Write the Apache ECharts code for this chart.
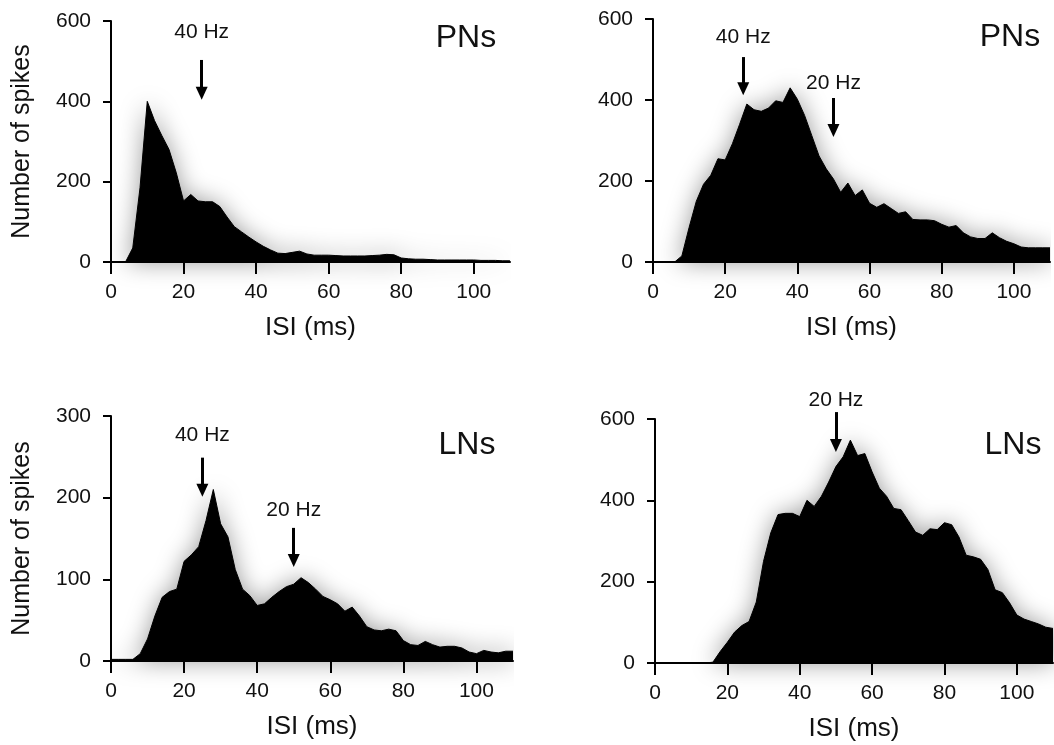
<!DOCTYPE html>
<html>
<head>
<meta charset="utf-8">
<script src="https://cdn.jsdelivr.net/npm/echarts@6/dist/echarts.min.js"></script>
<style>html,body{margin:0;padding:0;background:#fff;}#c{width:1054px;height:745px;}</style>
</head>
<body>
<div id="c"></div>
<script>
// ISI bins (ms)
const isi = [0,2,4,6,8,10,12,14,16,18,20,22,24,26,28,30,32,34,36,38,40,42,44,46,48,50,52,54,56,58,60,62,64,66,68,70,72,74,76,78,80,82,84,86,88,90,92,94,96,98,100,102,104,106,108,110];
// Panel A: PNs (top left)
const pnA = [0,0,0,35,185,400,352,315,280,222, 152,168,152,150,150,138,112,88,75,62, 50,39,30,22,21,24,27,20,17,17, 17,16,15,15,15,15,16,17,19,18, 10,8,7,7,6,5,5,5,5,5, 5,4,4,4,3,3];
// Panel B: PNs (top right)
const pnB = [0,0,0,0,15,85,150,192,214,255, 252,292,340,390,376,372,380,398,394,430, 402,362,312,262,230,205,172,195,164,178, 145,135,144,132,120,124,105,104,104,102, 93,86,90,72,62,58,58,72,60,51, 45,37,35,35,35,35];
// Panel C: LNs (bottom left)
const lnC = [2,2,2,2,9,27,55,78,85,88, 122,130,140,172,210,168,152,112,88,80, 68,70,78,85,91,94,102,96,88,79, 75,70,61,66,55,42,38,37,39,37, 25,20,19,24,20,17,18,18,16,11, 9,13,11,10,12,12];
// Panel D: LNs (bottom right)
const lnD = [0,0,0,0,0,0,0,0,2,28, 51,76,92,102,150,250,320,365,368,368, 360,400,385,410,445,483,507,548,510,515, 470,430,410,380,377,350,322,314,330,328, 345,340,310,265,261,255,230,180,173,148, 118,108,102,96,88,85];
// Tick labels
const xTicks = [0,20,40,60,80,100];
// Arrow annotations (data units): ISI position, arrow top, arrow end, label height
const arrA = [{at:25, from:503, to:420, textAt:573, text:'40 Hz'}];
const arrB = [{at:25, from:506, to:428, textAt:556, text:'40 Hz'}, {at:50, from:405, to:325, textAt:442, text:'20 Hz'}];
const arrC = [{at:25, from:249, to:209, textAt:277, text:'40 Hz'}, {at:50, from:163, to:123, textAt:185, text:'20 Hz'}];
const arrD = [{at:50, from:617, to:535, textAt:647, text:'20 Hz'}];
const cellNames = ['PNs','PNs','LNs','LNs'];

const FONT = 'Liberation Sans, Arial, Helvetica, sans-serif';
const TICK_FS = 21, HZ_FS = 21;
const grids = [
  {left:111, top:21, width:399, height:241},
  {left:653, top:19, width:397, height:243},
  {left:111, top:416, width:402, height:245},
  {left:655, top:419, width:398, height:244}
];
const panels = [
  {counts:pnA, yMax:600, yInt:200, yName:'Number of spikes', arrows:arrA},
  {counts:pnB, yMax:600, yInt:200, yName:'', arrows:arrB},
  {counts:lnC, yMax:300, yInt:100, yName:'Number of spikes', arrows:arrC},
  {counts:lnD, yMax:600, yInt:200, yName:'', arrows:arrD}
];

function arrowMarkers(arrows) {
  return {
    markLine:{
      silent:true, animation:false, symbol:['none','triangle'], symbolSize:[12,13],
      lineStyle:{color:'#000', width:3, type:'solid'},
      label:{show:false},
      data: arrows.map(a => [{coord:[a.at, a.from]}, {coord:[a.at, a.to]}])
    },
    markPoint:{
      silent:true, animation:false, symbol:'circle', symbolSize:1,
      itemStyle:{color:'rgba(0,0,0,0)'},
      label:{show:true, position:'inside', color:'#111', fontSize:HZ_FS, fontFamily:FONT, formatter: q => q.name},
      data: arrows.map(a => ({coord:[a.at, a.textAt], name:a.text}))
    }
  };
}

const xAxes = [], yAxes = [], series = [];
panels.forEach((p, i) => {
  xAxes.push({
    gridIndex:i, type:'value', min:0, max:110, interval:20,
    axisLine:{show:true, onZero:false, lineStyle:{color:'#000', width:2}},
    axisTick:{show:true, length:12, customValues:xTicks, lineStyle:{color:'#000', width:2}},
    axisLabel:{customValues:xTicks, color:'#111', fontSize:TICK_FS, fontFamily:FONT, margin:20},
    splitLine:{show:false},
    name:'ISI (ms)', nameLocation:'middle', nameGap:53,
    nameTextStyle:{color:'#111', fontSize:26, fontFamily:FONT}
  });
  yAxes.push({
    gridIndex:i, type:'value', min:0, max:p.yMax, interval:p.yInt,
    axisLine:{show:true, lineStyle:{color:'#000', width:2}},
    axisTick:{show:true, length:8, lineStyle:{color:'#000', width:2}},
    axisLabel:{color:'#111', fontSize:TICK_FS, fontFamily:FONT, margin:20},
    splitLine:{show:false},
    name:p.yName, nameLocation:'middle', nameGap:76,
    nameTextStyle:{color:'#111', fontSize:25, fontFamily:FONT}
  });
  const s = {
    type:'line', xAxisIndex:i, yAxisIndex:i,
    data: isi.map((x, k) => [x, p.counts[k]]),
    showSymbol:false, symbol:'none', clip:false, animation:false,
    lineStyle:{color:'#000', width:1},
    areaStyle:{color:'#000', opacity:1, shadowColor:'rgba(0,0,0,0.4)', shadowBlur:24}
  };
  if (p.arrows.length && p.arrows.every(a => a.textAt <= p.yMax)) Object.assign(s, arrowMarkers(p.arrows));
  else p.overlay = true;
  series.push(s);
});

// Invisible overlay grids (same scale, extended upward) for annotations above the axis maximum
panels.forEach((p, i) => {
  if (!p.overlay) return;
  const g = grids[i];
  const extra = 100;
  const pxPerUnit = g.height / p.yMax;
  const idx = grids.length;
  grids.push({left:g.left, top:g.top - extra * pxPerUnit, width:g.width, height:g.height + extra * pxPerUnit});
  xAxes.push({gridIndex:idx, type:'value', min:0, max:110, show:false});
  yAxes.push({gridIndex:idx, type:'value', min:0, max:p.yMax + extra, show:false});
  series.push(Object.assign({
    type:'line', xAxisIndex:idx, yAxisIndex:idx, data:[[0,0]], symbol:'none', animation:false,
    lineStyle:{opacity:0}
  }, arrowMarkers(p.arrows)));
});

const labelPos = [[466,38],[1010,37],[467,445],[1013,445]];
const graphic = cellNames.map((t, i) => ({
  type:'text', x:labelPos[i][0], y:labelPos[i][1],
  style:{text:t, fill:'#111', fontSize:32, fontFamily:FONT, textAlign:'center', textVerticalAlign:'middle'}
}));

const chart = echarts.init(document.getElementById('c'), null, {renderer:'canvas'});
chart.setOption({
  animation:false,
  backgroundColor:'#fff',
  grid: grids,
  xAxis: xAxes,
  yAxis: yAxes,
  series: series,
  graphic: graphic
});
</script>
</body>
</html>
